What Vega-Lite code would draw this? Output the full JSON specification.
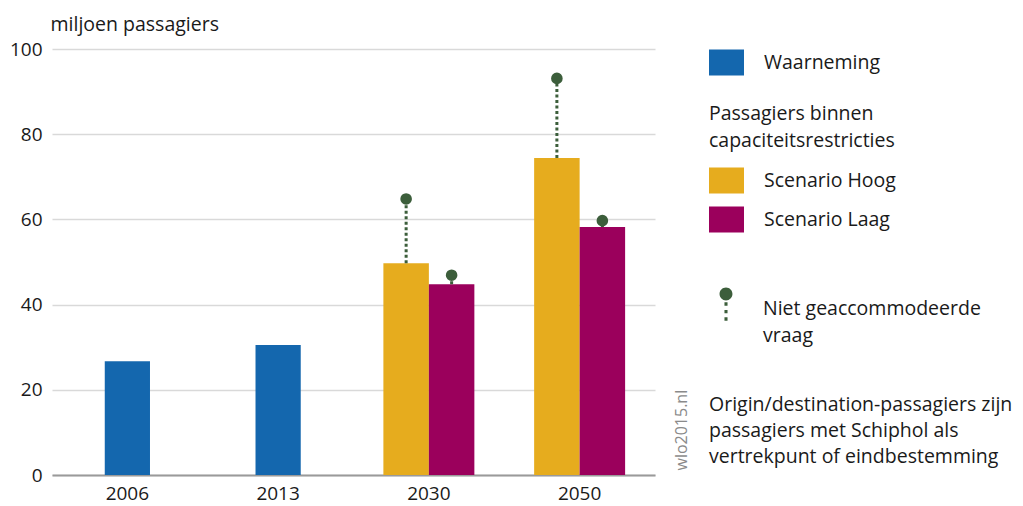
{
  "$schema": "https://vega.github.io/schema/vega-lite/v6.json",
  "width": 603,
  "height": 426,
  "autosize": {"type": "none"},
  "padding": {"left": 52, "top": 49, "right": 368, "bottom": 31},
  "config": {
    "font": "Open Sans",
    "view": {"stroke": null},
    "style": {"guide-label": {"lineHeight": 26.5}},
    "axis": {"labelColor": "#1a1a1a", "titleColor": "#1a1a1a", "labelFontSize": 19, "titleFontSize": 19.5, "titleFontWeight": "normal"},
    "legend": {"padding": 0, "labelFontSize": 19.5, "labelColor": "#1a1a1a", "titleColor": "#1a1a1a", "titleFontSize": 19.5, "titleFontWeight": "normal", "labelLimit": 400, "titleLimit": 400, "symbolStrokeWidth": 0}
  },
  "data": {
    "values": [
      {"year": "2006", "series": "Waarneming", "value": 26.7, "demand": null},
      {"year": "2013", "series": "Waarneming", "value": 30.5, "demand": null},
      {"year": "2030", "series": "Scenario Hoog", "value": 49.7, "demand": 64.8},
      {"year": "2030", "series": "Scenario Laag", "value": 44.8, "demand": 46.9},
      {"year": "2050", "series": "Scenario Hoog", "value": 74.4, "demand": 93.1},
      {"year": "2050", "series": "Scenario Laag", "value": 58.2, "demand": 59.7}
    ]
  },
  "layer": [
    {
      "transform": [{"filter": "datum.series === 'Waarneming'"}],
      "mark": {"type": "bar", "width": {"band": 0.3}},
      "encoding": {
        "x": {
          "field": "year", "type": "nominal", "sort": null,
          "scale": {"domain": ["2006", "2013", "2030", "2050"], "paddingInner": 0, "paddingOuter": 0},
          "axis": {"title": null, "labelAngle": 0, "ticks": false, "grid": false, "domain": true, "domainColor": "#9a9a9a", "domainWidth": 2, "labelPadding": 9}
        },
        "y": {
          "field": "value", "type": "quantitative",
          "scale": {"domain": [0, 100]},
          "axis": {
            "values": [0, 20, 40, 60, 80, 100], "ticks": false, "domain": false, "grid": true,
            "gridColor": "#d9d9d9", "gridWidth": 1.5, "labelPadding": 10,
            "title": "miljoen passagiers", "titleAngle": 0, "titleAlign": "left", "titleBaseline": "alphabetic",
            "titleX": -2, "titleY": -19
          }
        },
        "color": {
          "field": "series", "type": "nominal",
          "scale": {"domain": ["Waarneming"], "range": ["#1467ae"]},
          "legend": {
            "title": null, "orient": "none", "legendX": 657, "legendY": -4,
            "symbolType": "M-1,-0.743H1V0.743H-1Z", "symbolSize": 1225, "labelOffset": 20
          }
        }
      }
    },
    {
      "transform": [{"filter": "datum.series !== 'Waarneming'"}],
      "mark": {"type": "bar"},
      "encoding": {
        "x": {"field": "year", "type": "nominal", "sort": null},
        "xOffset": {"field": "series", "type": "nominal", "scale": {"domain": ["Scenario Hoog", "Scenario Laag"], "paddingInner": 0, "paddingOuter": 0.657}},
        "y": {"field": "value", "type": "quantitative", "axis": null},
        "color": {
          "field": "series", "type": "nominal",
          "scale": {"domain": ["Scenario Hoog", "Scenario Laag"], "range": ["#e6ac1e", "#9b005c"]},
          "legend": {
            "title": ["Passagiers binnen", "capaciteitsrestricties"], "titleLineHeight": 26.5, "titlePadding": 12,
            "orient": "none", "legendX": 657, "legendY": 56,
            "symbolType": "M-1,-0.743H1V0.743H-1Z", "symbolSize": 1225, "labelOffset": 20, "rowPadding": 8
          }
        }
      }
    },
    {
      "transform": [{"filter": "datum.series !== 'Waarneming'"}],
      "mark": {"type": "rule", "color": "#3c5e3b", "strokeWidth": 3, "strokeDash": [3, 2.5]},
      "encoding": {
        "x": {"field": "year", "type": "nominal", "sort": null},
        "xOffset": {"field": "series", "type": "nominal"},
        "y": {"field": "value", "type": "quantitative", "axis": null},
        "y2": {"field": "demand"}
      }
    },
    {
      "transform": [{"filter": "datum.series !== 'Waarneming'"}],
      "mark": {"type": "circle", "size": 135, "opacity": 1},
      "encoding": {
        "x": {"field": "year", "type": "nominal", "sort": null},
        "xOffset": {"field": "series", "type": "nominal"},
        "y": {
          "field": "demand", "type": "quantitative",
          "axis": {
            "orient": "right", "labels": false, "ticks": false, "domain": false, "grid": false,
            "title": "wlo2015.nl", "titleAngle": 270, "titleAlign": "left", "titleBaseline": "middle",
            "titleX": 26, "titleY": 421, "titleFontSize": 16, "titleColor": "#8a8a8a"
          }
        },
        "color": {
          "datum": "Niet geaccommodeerde vraag",
          "scale": {"range": ["#3c5e3b"]},
          "legend": {
            "orient": "none", "legendX": 657, "legendY": 243,
            "symbolType": "M-0.38,-0.885A0.38,0.38,0,1,0,0.38,-0.885A0.38,0.38,0,1,0,-0.38,-0.885ZM-0.09,-0.395H0.09V-0.195H-0.09ZM-0.09,0.055H0.09V0.255H-0.09ZM-0.09,0.485H0.09V0.685H-0.09Z",
            "symbolSize": 1156, "labelOffset": 20,
            "labelExpr": "['Niet geaccommodeerde', 'vraag']",
            "encode": {"labels": {"update": {"lineHeight": {"value": 26.5}}}},
            "title": ["Origin/destination-passagiers zijn", "passagiers met Schiphol als", "vertrekpunt of eindbestemming"],
            "titleOrient": "bottom", "titleLineHeight": 26, "titlePadding": 51
          }
        }
      }
    }
  ],
  "resolve": {
    "scale": {"color": "independent"},
    "legend": {"color": "independent"},
    "axis": {"y": "independent"}
  }
}
